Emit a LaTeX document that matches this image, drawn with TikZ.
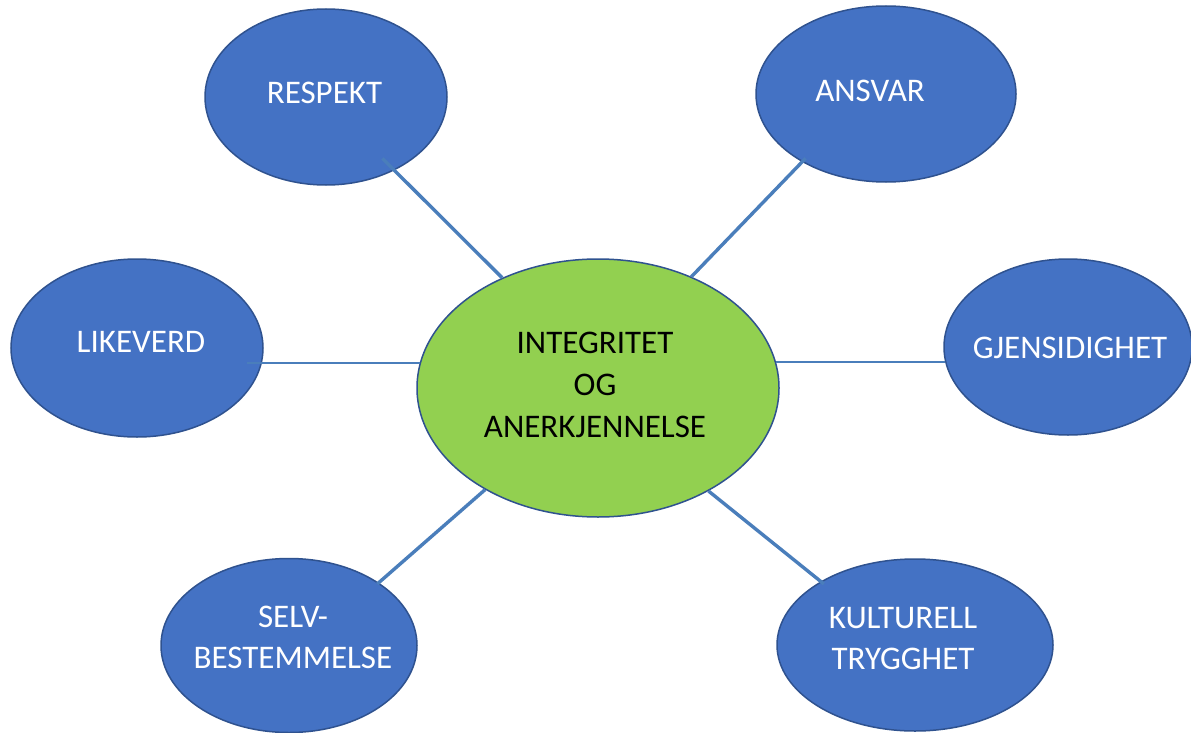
\documentclass[tikz,border=0pt]{standalone}
\usepackage{fontspec}
\setmainfont{Carlito}
\usetikzlibrary{shapes.geometric}
\definecolor{bubble}{HTML}{4472C4}
\definecolor{rim}{HTML}{2F528F}
\definecolor{hub}{HTML}{92D050}
\definecolor{link}{HTML}{4A7EBB}
\begin{document}
\begin{tikzpicture}[x=1pt,y=-1pt,
  oval/.style={ellipse, draw=rim, line width=1.5pt, fill=bubble, inner sep=0pt},
  word/.style={text=white, font=\fontsize{33}{41.5}\selectfont, align=center},
  hubword/.style={text=black, font=\fontsize{33}{42}\selectfont, align=center},
  conn/.style={draw=link, line width=3.4pt}]
\useasboundingbox (0,0) rectangle (1191,733);
\fill[white] (0,0) rectangle (1191,733);
% centre
\node[oval, fill=hub, minimum width=362pt, minimum height=258pt,
  label={[hubword,xshift=-3pt,yshift=3pt]center:INTEGRITET\\OG\\ANERKJENNELSE}] (c) at (598,388) {};
% satellites
\node[oval, minimum width=242pt, minimum height=176pt,
  label={[word,xshift=-1.5pt,yshift=4pt]center:RESPEKT}] (resp) at (326,97) {};
\node[oval, minimum width=260pt, minimum height=176pt,
  label={[word,xshift=-16pt,yshift=3pt]center:ANSVAR}] (ansv) at (886,94) {};
\node[oval, minimum width=252pt, minimum height=178pt,
  label={[word,xshift=4pt,yshift=6pt]center:LIKEVERD}] (like) at (137,348) {};
\node[oval, minimum width=248pt, minimum height=176pt,
  label={[word,xshift=2pt,yshift=-1pt]center:GJENSIDIGHET}] (gjen) at (1068,347) {};
\node[oval, minimum width=256pt, minimum height=174pt,
  label={[word,xshift=4pt,yshift=8pt]center:SELV-\\BESTEMMELSE}] (selv) at (289,645.5) {};
\node[oval, minimum width=276pt, minimum height=172pt,
  label={[word,xshift=-12pt,yshift=6.5pt]center:KULTURELL\\TRYGGHET}] (kult) at (915,645) {};
% connectors
\draw[conn, shorten >=-17pt] (c.131.3) -- (resp.313);
\draw[conn, shorten >=-5pt] (c.50.6) -- (ansv.219.3);
\draw[conn, line width=1.8pt, shorten <=-15pt, shorten >=-4pt] (like.353.6) -- (like.353.6 -| c.west);
\draw[conn, line width=2.6pt, shorten >=-4pt] (gjen.187) -- (gjen.187 -| c.east);
\draw[conn, shorten >=-2pt] (c.222.5) -- (selv.35.8);
\draw[conn, shorten >=-4pt] (c.317.2) -- (kult.146.7);
\end{tikzpicture}
\end{document}
